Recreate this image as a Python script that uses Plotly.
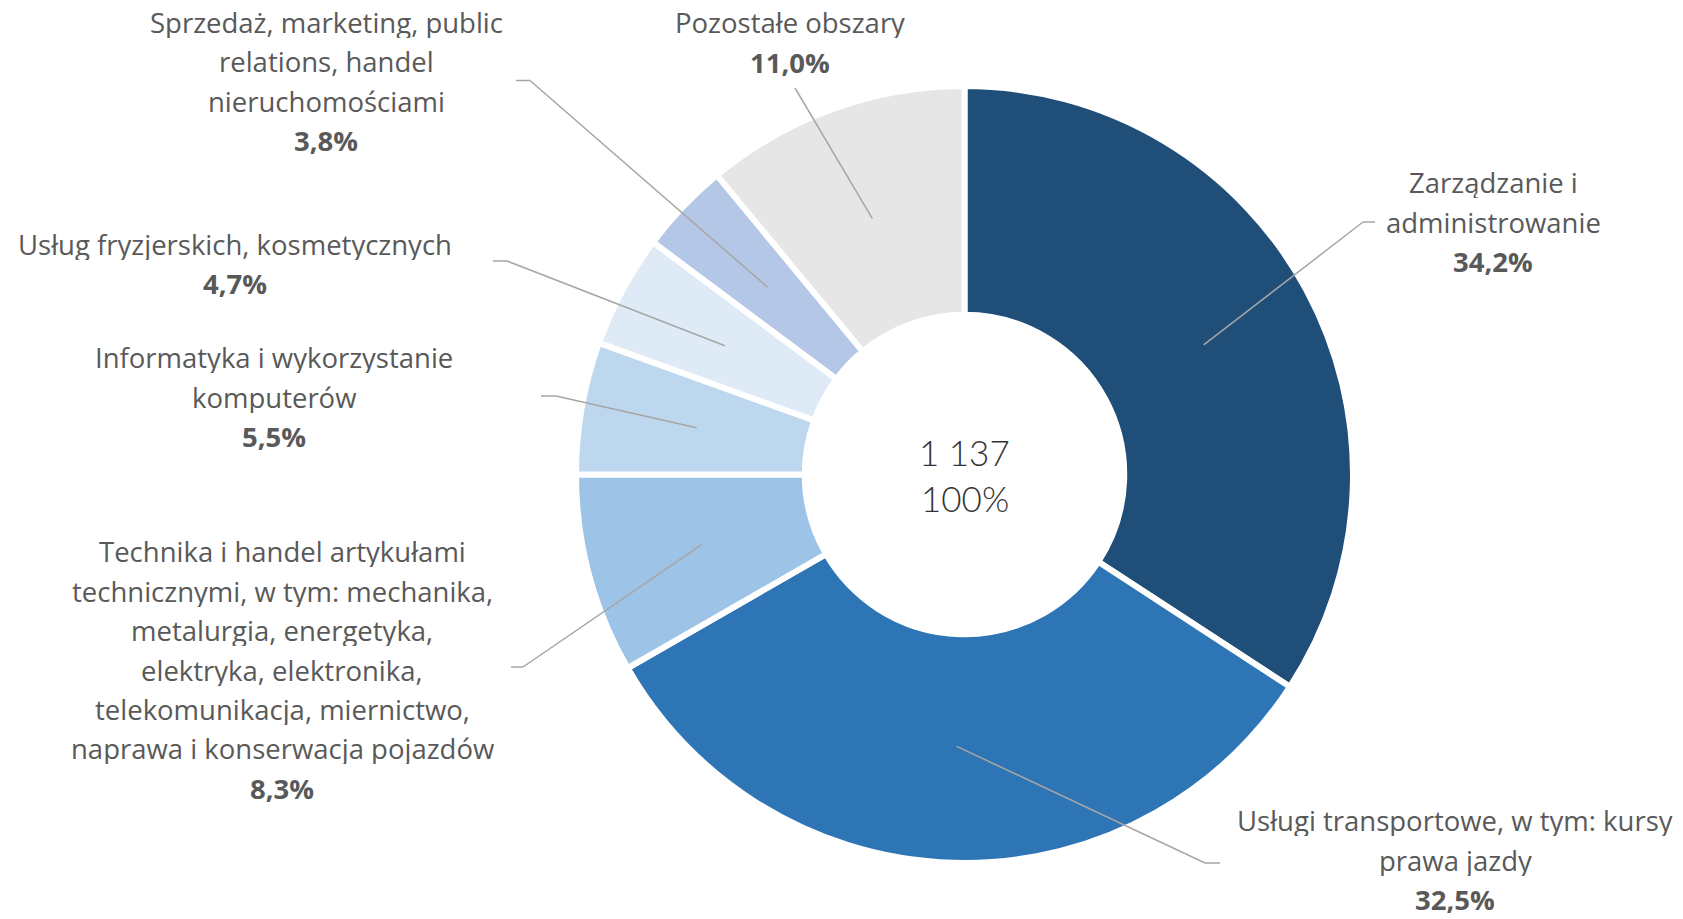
import math
import plotly.graph_objects as go

# ---------------- data ----------------
categories = [
    "Zarządzanie i\nadministrowanie",
    "Usługi transportowe, w tym: kursy\nprawa jazdy",
    "Technika i handel artykułami\ntechnicznymi, w tym: mechanika,\nmetalurgia, energetyka,\nelektryka, elektronika,\ntelekomunikacja, miernictwo,\nnaprawa i konserwacja pojazdów",
    "Informatyka i wykorzystanie\nkomputerów",
    "Usług fryzjerskich, kosmetycznych",
    "Sprzedaż, marketing, public\nrelations, handel\nnieruchomościami",
    "Pozostałe obszary",
]
shares = [34.2, 32.5, 8.3, 5.5, 4.7, 3.8, 11.0]
colors = ["#1F4E79", "#2E75B6", "#9DC3E6", "#BDD7EE", "#DEEBF7", "#B4C7E7", "#E7E6E6"]
total_count = 1137
total_share = "100%"

# ---------------- layout constants (pixels) ----------------
W, H = 1683, 919
CX, CY = 964.5, 474.5      # donut centre
R_OUT, R_IN = 385.5, 158.5 # visible radii
GAP = 6                    # white separator width
LINE_H = 39.4              # label line spacing
FONT = "Open Sans"
FONT_SIZE = 27.5
TXT_COL = "#595959"
LEAD_COL = "#A6A6A6"

# label block centres and leader elbows (x_text, y_text, elbow_x, end_x, elbow_y)
label_pos = [
    (1493, 221.5, 1363, 1375, 222),
    (1455, 859.5, 1205, 1220, 863),
    (282, 669.5, 523, 511, 667),
    (274, 396.5, 556, 541, 396),
    (235, 263.5, 507, 493, 261),
    (326, 81.0, 530, 516, 80.5),
    (790, 42.0, 795, 795, 88),
]


def px(x):
    return x / W


def py(y):
    return 1 - y / H


R_dom = R_OUT + GAP / 2
fig = go.Figure(
    go.Pie(
        labels=[c.replace("\n", " ") for c in categories],
        values=shares,
        sort=False,
        direction="clockwise",
        rotation=0,
        hole=R_IN / R_OUT,
        marker=dict(colors=colors, line=dict(color="white", width=GAP)),
        textinfo="none",
        hoverinfo="label+percent",
        showlegend=False,
        domain=dict(
            x=[px(CX - R_dom), px(CX + R_dom)],
            y=[py(CY + R_dom), py(CY - R_dom)],
        ),
    )
)

shapes = []
annotations = []
tot = sum(shares)
cum = 0.0
r_mid = (R_OUT + R_IN) / 2
for cat, val, pos in zip(categories, shares, label_pos):
    theta = 2 * math.pi * (cum + val / 2) / tot
    cum += val
    ix = CX + r_mid * math.sin(theta)
    iy = CY - r_mid * math.cos(theta)
    tx, ty, ex, endx, ey = pos
    shapes.append(dict(type="line", xref="paper", yref="paper",
                       x0=px(ix), y0=py(iy), x1=px(ex), y1=py(ey),
                       line=dict(color=LEAD_COL, width=1.5)))
    if endx != ex:
        shapes.append(dict(type="line", xref="paper", yref="paper",
                           x0=px(ex), y0=py(ey), x1=px(endx), y1=py(ey),
                           line=dict(color=LEAD_COL, width=1.5)))
    lines = cat.split("\n") + ["<b>" + f"{val:.1f}".replace(".", ",") + "%</b>"]
    n = len(lines)
    for i, ln in enumerate(lines):
        yy = ty + (i - (n - 1) / 2) * LINE_H
        annotations.append(dict(
            x=px(tx), y=py(yy), xref="paper", yref="paper",
            text=ln, showarrow=False, xanchor="center", yanchor="middle",
            height=32, borderpad=0,
            font=dict(family=FONT, size=FONT_SIZE, color=TXT_COL),
        ))

# centre text
for i, t in enumerate([f"{total_count:,}".replace(",", " "), total_share]):
    annotations.append(dict(
        x=px(CX), y=py(CY - 23 + i * 46), xref="paper", yref="paper",
        text=t, showarrow=False, xanchor="center", yanchor="middle",
        font=dict(family="Lato", size=35, color="#333333", weight=300),
    ))

fig.update_layout(
    width=W, height=H,
    margin=dict(l=0, r=0, t=0, b=0),
    paper_bgcolor="white", plot_bgcolor="white",
    shapes=shapes, annotations=annotations,
)

fig.write_html("out.html", config={"displayModeBar": False},
               post_script="document.body.style.margin='0';")
